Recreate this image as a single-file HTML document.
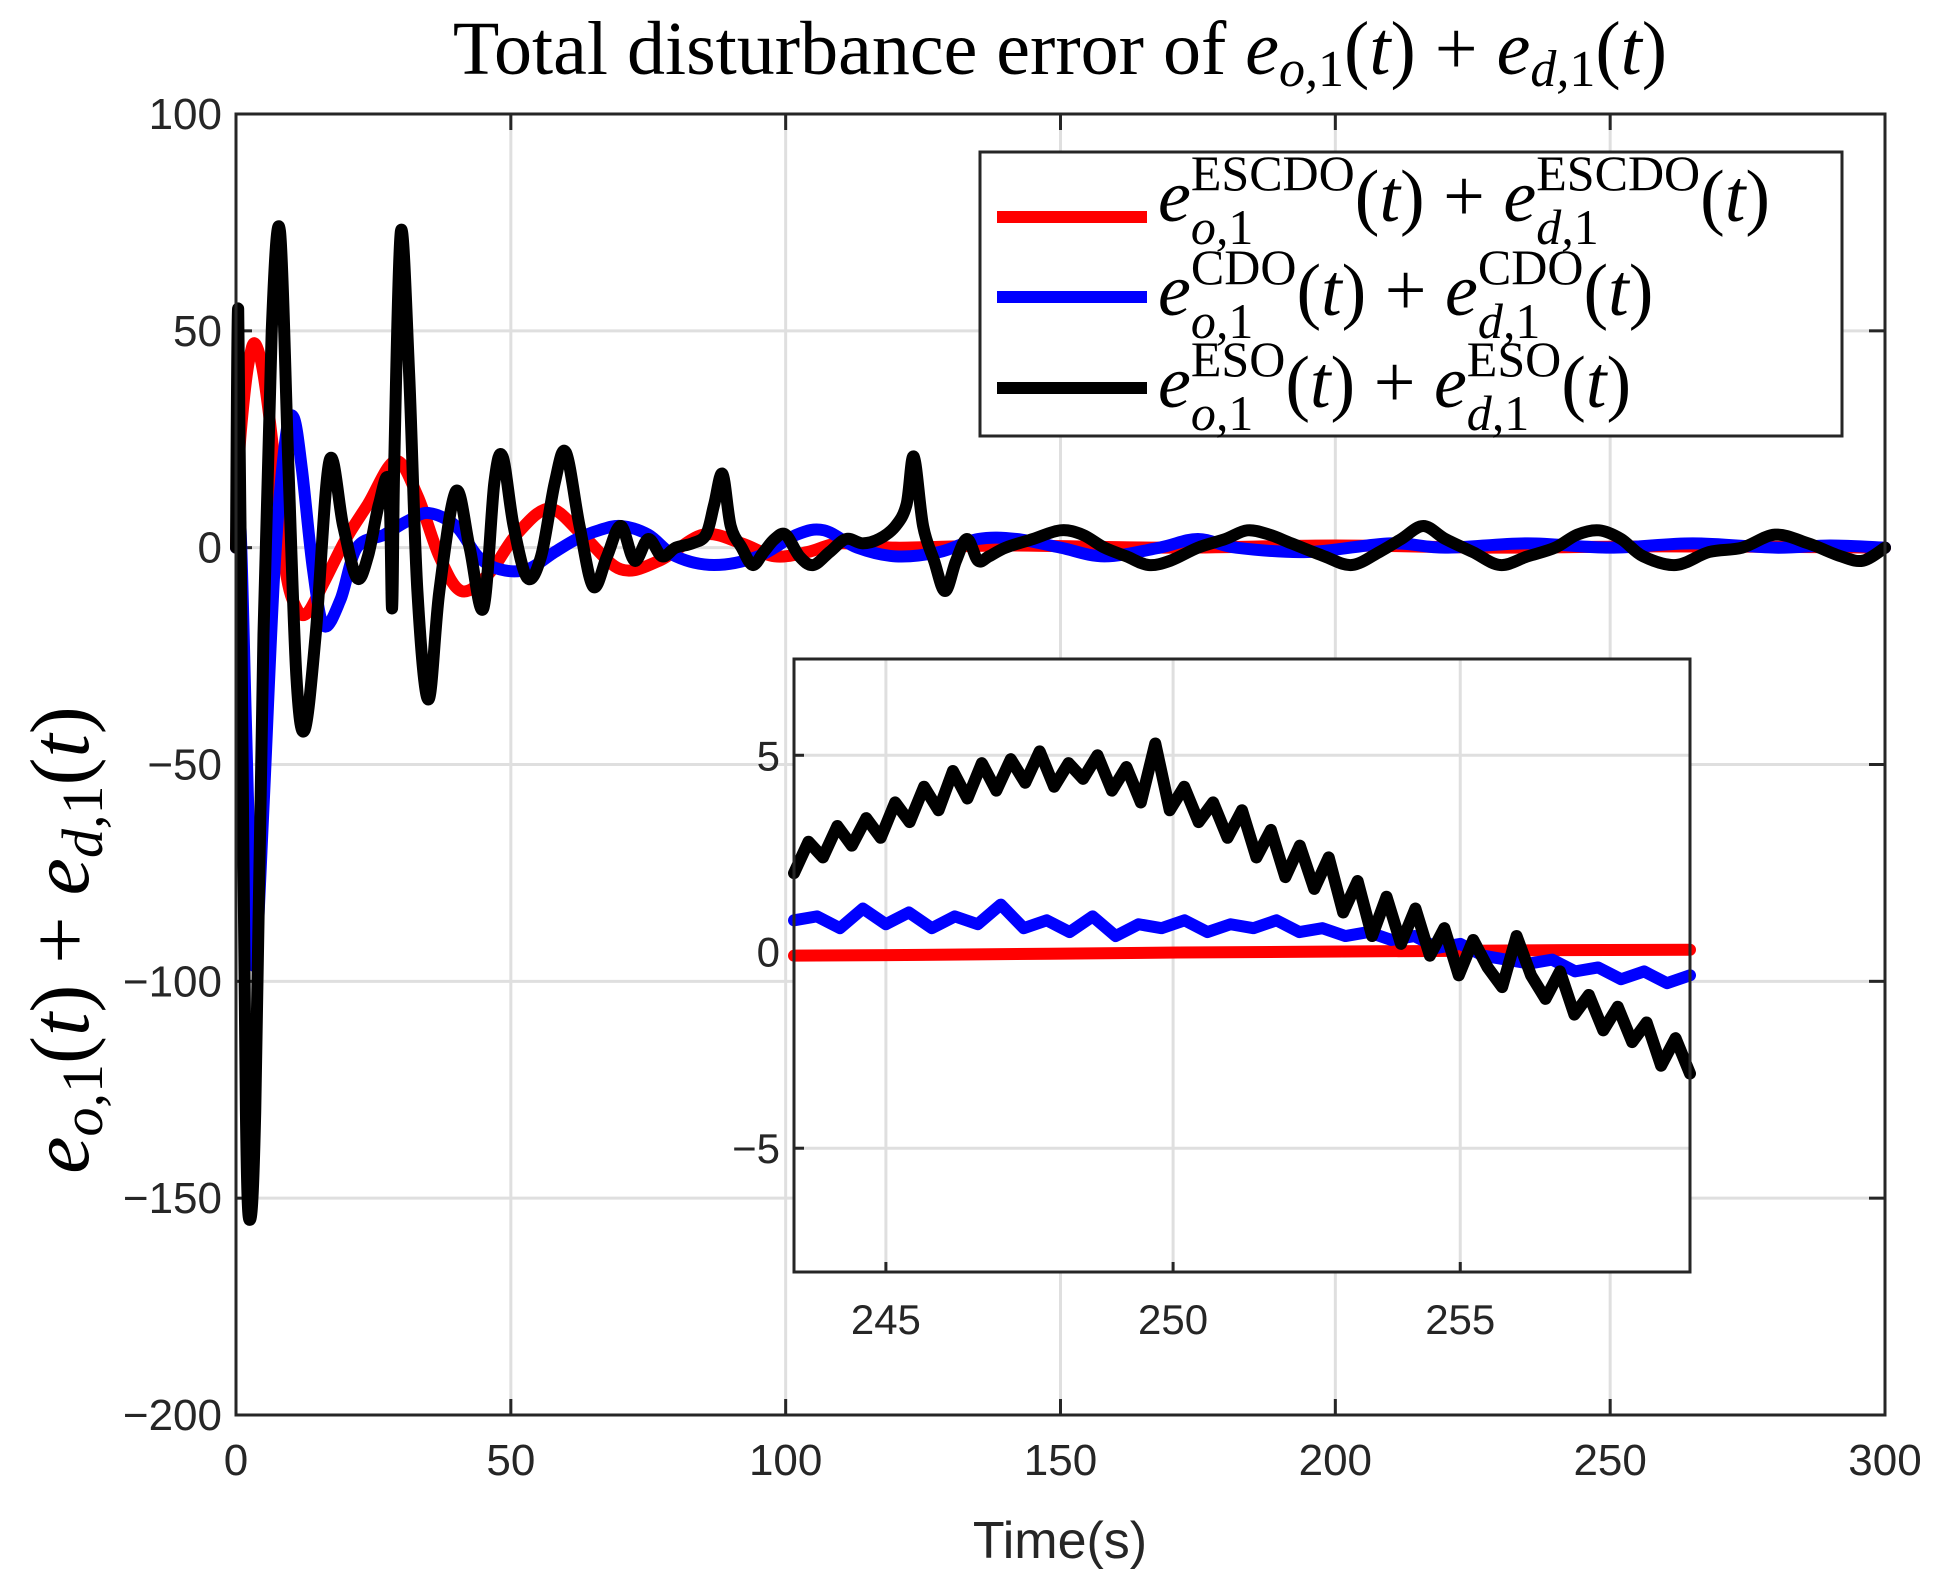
<!DOCTYPE html>
<html><head><meta charset="utf-8">
<style>
html,body{margin:0;padding:0;background:#fff;}
body{width:1938px;height:1584px;overflow:hidden;position:relative;font-family:"Liberation Sans",sans-serif;}
.lg{position:absolute;font-family:"Liberation Serif",serif;font-size:74px;color:#000;white-space:nowrap;line-height:1;}
.lg i{font-style:italic}
.lg .ss{display:inline-block;vertical-align:middle;position:relative;line-height:1;font-size:50px;text-align:left}
</style></head>
<body>
<svg id="chart" width="1938" height="1584" style="position:absolute;left:0;top:0">
  <g id="main"></g>
  <g id="inset"></g>
</svg>
<div class="lg" style="left:1158px;top:152px;">
  <i>e</i><span class="ss" style="top:-4px"><span style="display:block">ESCDO</span><span style="display:block;font-style:italic;margin-top:4px">o,<span style="font-style:normal">1</span></span></span>(<i>t</i>) + <i>e</i><span class="ss" style="top:-4px"><span style="display:block">ESCDO</span><span style="display:block;font-style:italic;margin-top:4px">d,<span style="font-style:normal">1</span></span></span>(<i>t</i>)
</div>
<div class="lg" style="left:1158px;top:246px;">
  <i>e</i><span class="ss" style="top:-4px"><span style="display:block">CDO</span><span style="display:block;font-style:italic;margin-top:4px">o,<span style="font-style:normal">1</span></span></span>(<i>t</i>) + <i>e</i><span class="ss" style="top:-4px"><span style="display:block">CDO</span><span style="display:block;font-style:italic;margin-top:4px">d,<span style="font-style:normal">1</span></span></span>(<i>t</i>)
</div>
<div class="lg" style="left:1158px;top:338px;">
  <i>e</i><span class="ss" style="top:-4px"><span style="display:block">ESO</span><span style="display:block;font-style:italic;margin-top:4px">o,<span style="font-style:normal">1</span></span></span>(<i>t</i>) + <i>e</i><span class="ss" style="top:-4px"><span style="display:block">ESO</span><span style="display:block;font-style:italic;margin-top:4px">d,<span style="font-style:normal">1</span></span></span>(<i>t</i>)
</div>
<script>
// ---- main chart data ----
const escdoT = [0,0.5,1.5,2.5,3.5,5,7,9,11,13,16,20,24,29,33,37,41,46,51,57,63,70,77,85,92,98,104,110,120,140,170,200,230,260,300];
const escdoV = [0,20,35,44,47,40,20,-5,-14,-15,-8,2,10,20,12,-2,-10,-6,3,9,3,-5,-3,3,1,-2,-1,1,0,0.5,0,0.5,0,0.3,0];
const cdoT = [0,0.8,1.8,2.8,3.6,5,7,9,10.5,12,14,16,19,22,27,31,35,40,44,48,53,58,62,66,70,75,80,87,95,102,107,113,120,128,135,142,150,158,168,175,182,195,210,220,235,250,265,280,290,300];
const cdoV = [0,5,-40,-85,-95,-60,-5,25,30,18,-5,-18,-12,0,3,6,8,5,-2,-5,-5,-1,2,4,5,3,-2,-4,-2,3,4,0,-2,-1,2,2,0,-2,0,2,0,-1,1,0,1,0,1,0,0.5,0];
const esoT = [0,0.4,1,1.8,2.5,3.5,5,6.5,8,9.5,11,12.5,14.5,17,19.5,22,24,26,27.8,28.4,28.8,30,31.5,33,35,37,40,42.5,45,47,48.5,50.5,53,55.5,58,60,62.5,65,67.5,70,72.5,75,77.5,80,83,85.5,87,88.5,90,92,94,96,98,100,102.5,105,108,111,114,117,120,122,123.3,125,127,129,131,133,135,137,140,145,150,154,158,162,166,170,175,180,184,188,192,198,203,208,212,216,220,225,230,235,240,244,248,252,256,262,268,274,280,286,292,296,300];
const esoV = [0,55,-20,-130,-155,-130,-20,50,73,20,-30,-42,-20,20,5,-7,-2,10,15,-14,20,73,40,-10,-35,-10,13,0,-14,15,21,5,-7,-2,15,22,5,-9,-2,5,-3,2,-2,0,1,3,10,17,5,0,-4,-1,2,3,-2,-4,-1,2,1,2,5,10,21,5,-3,-10,-3,2,-3,-2,0,2,4,3,0,-2,-4,-3,0,2,4,3,1,-2,-4,-1,2,5,2,-1,-4,-2,0,3,4,2,-2,-4,-1,0,3,1,-2,-3,0,1];
const mainXTicks = [0,50,100,150,200,250,300];
const mainYTicks = [100,50,0,-50,-100,-150,-200];
// ---- inset data ----
const insetRange = [243.4,259.0];
const insetEsoV = [2.0,2.8,2.4,3.2,2.7,3.4,2.9,3.8,3.3,4.2,3.6,4.6,3.9,4.8,4.1,4.9,4.3,5.1,4.2,4.8,4.4,5.0,4.1,4.7,3.8,5.3,3.6,4.2,3.3,3.8,2.9,3.6,2.4,3.1,1.9,2.7,1.6,2.4,1.0,1.8,0.4,1.4,0.2,1.1,-0.1,0.6,-0.6,0.3,-0.4,-0.9,0.4,-0.6,-1.2,-0.5,-1.6,-1.1,-2.0,-1.4,-2.3,-1.8,-2.9,-2.2,-3.1];
const insetCdoV = [0.8,0.9,0.6,1.1,0.7,1.0,0.6,0.9,0.7,1.2,0.6,0.8,0.5,0.9,0.4,0.7,0.6,0.8,0.5,0.7,0.6,0.8,0.5,0.6,0.4,0.5,0.3,0.4,0.1,0.2,-0.1,-0.2,-0.3,-0.2,-0.5,-0.4,-0.7,-0.5,-0.8,-0.6];
const insetEscdoV = [-0.1,-0.08,-0.05,-0.02,0.0,0.02,0.04,0.05];
const insetXTicks = [245,250,255];
const insetYTicks = [5,0,-5];

const NS='http://www.w3.org/2000/svg';
function mk(tag, attrs, parent){const e=document.createElementNS(NS,tag);for(const k in attrs)e.setAttribute(k,attrs[k]);parent.appendChild(e);return e;}
function smooth(pts){let d='M'+pts[0][0]+','+pts[0][1];for(let i=0;i<pts.length-1;i++){const p0=pts[i-1]||pts[i],p1=pts[i],p2=pts[i+1],p3=pts[i+2]||p2;const c1=[p1[0]+(p2[0]-p0[0])/6,p1[1]+(p2[1]-p0[1])/6],c2=[p2[0]-(p3[0]-p1[0])/6,p2[1]-(p3[1]-p1[1])/6];d+=' C'+c1[0]+','+c1[1]+' '+c2[0]+','+c2[1]+' '+p2[0]+','+p2[1];}return d;}

const M={l:236,r:1885,t:114,b:1415,x0:0,x1:300,y0:-200,y1:100};
const mx=v=>M.l+(v-M.x0)/(M.x1-M.x0)*(M.r-M.l);
const my=v=>M.b-(v-M.y0)/(M.y1-M.y0)*(M.b-M.t);
const g=document.getElementById('main');
mk('rect',{x:M.l,y:M.t,width:M.r-M.l,height:M.b-M.t,fill:'#fff'},g);
mainXTicks.forEach(v=>{
  const l=mk('line',{x1:mx(v),x2:mx(v),y1:M.t,y2:M.b,stroke:'#dfdfdf','stroke-width':3},g);
  
  
  const t=mk('text',{x:mx(v),y:M.b+60,'text-anchor':'middle','font-size':44,fill:'#262626'},g);t.textContent=v;
  
  
  mk('line',{x1:mx(v),x2:mx(v),y1:M.b,y2:M.b-16,stroke:'#262626','stroke-width':3},g);
  mk('line',{x1:mx(v),x2:mx(v),y1:M.t,y2:M.t+16,stroke:'#262626','stroke-width':3},g);
});
mainYTicks.forEach(v=>{
  const l=mk('line',{x1:M.l,x2:M.r,y1:my(v),y2:my(v),stroke:'#dfdfdf','stroke-width':3},g);
  
  
  const t=mk('text',{x:M.l-14,y:my(v)+15,'text-anchor':'end','font-size':44,fill:'#262626'},g);t.textContent=(v<0?'\u2212'+(-v):v);
  
  
  mk('line',{x1:M.l,x2:M.l+16,y1:my(v),y2:my(v),stroke:'#262626','stroke-width':3},g);
  mk('line',{x1:M.r,x2:M.r-16,y1:my(v),y2:my(v),stroke:'#262626','stroke-width':3},g);
});
function mainSeries(T,V,color,name){
  const p=mk('path',{d:smooth(T.map((t,i)=>[mx(t),my(V[i])])),fill:'none',stroke:color,'stroke-width':12,'stroke-linejoin':'round','stroke-linecap':'round'},g);
  
  
}
mainSeries(escdoT,escdoV,'#ff0000','escdo-line');
mainSeries(cdoT,cdoV,'#0000ff','cdo-line');
mainSeries(esoT,esoV,'#000000','eso-line');
mk('rect',{x:M.l,y:M.t,width:M.r-M.l,height:M.b-M.t,fill:'none',stroke:'#262626','stroke-width':3},g);

let tt=mk('text',{x:1060,y:74,'text-anchor':'middle','font-size':76,'font-family':'Liberation Serif, serif',fill:'#000'},g);
tt.innerHTML='Total disturbance error of <tspan font-style="italic">e</tspan><tspan font-size="52" dy="12" font-style="italic">o,</tspan><tspan font-size="52">1</tspan><tspan dy="-12">(</tspan><tspan font-style="italic">t</tspan>) + <tspan font-style="italic">e</tspan><tspan font-size="52" dy="12" font-style="italic">d,</tspan><tspan font-size="52">1</tspan><tspan dy="-12">(</tspan><tspan font-style="italic">t</tspan>)';


let xl=mk('text',{x:1060,y:1558,'text-anchor':'middle','font-size':52,fill:'#262626'},g);xl.textContent='Time(s)';


let yl=mk('text',{x:0,y:0,'text-anchor':'middle','font-size':84,'font-family':'Liberation Serif, serif',fill:'#000',transform:'translate(88,940) rotate(-90)'},g);
yl.innerHTML='<tspan font-style="italic">e</tspan><tspan font-size="58" dy="14" font-style="italic">o,</tspan><tspan font-size="58">1</tspan><tspan dy="-14">(</tspan><tspan font-style="italic">t</tspan>) + <tspan font-style="italic">e</tspan><tspan font-size="58" dy="14" font-style="italic">d,</tspan><tspan font-size="58">1</tspan><tspan dy="-14">(</tspan><tspan font-style="italic">t</tspan>)';



const lgb=mk('rect',{x:980,y:152,width:862,height:284,fill:'#fff',stroke:'#262626','stroke-width':3},g);


[['#ff0000',217],['#0000ff',297],['#000000',388]].forEach(c=>{
  const l=mk('line',{x1:997,x2:1147,y1:c[1],y2:c[1],stroke:c[0],'stroke-width':12},g);
  
  
});

const I={l:794,r:1690,t:659,b:1272,x0:insetRange[0],x1:insetRange[1],y0:-8.15,y1:7.45};
const ix=v=>I.l+(v-I.x0)/(I.x1-I.x0)*(I.r-I.l);
const iy=v=>I.b-(v-I.y0)/(I.y1-I.y0)*(I.b-I.t);
const h=document.getElementById('inset');
const ib=mk('rect',{x:I.l,y:I.t,width:I.r-I.l,height:I.b-I.t,fill:'#fff'},h);


insetXTicks.forEach(v=>{
  mk('line',{x1:ix(v),x2:ix(v),y1:I.t,y2:I.b,stroke:'#dfdfdf','stroke-width':3},h);
  const t=mk('text',{x:ix(v),y:I.b+62,'text-anchor':'middle','font-size':42,fill:'#262626'},h);t.textContent=v;
  
  
  mk('line',{x1:ix(v),x2:ix(v),y1:I.b,y2:I.b-10,stroke:'#262626','stroke-width':3},h);
});
insetYTicks.forEach(v=>{
  mk('line',{x1:I.l,x2:I.r,y1:iy(v),y2:iy(v),stroke:'#dfdfdf','stroke-width':3},h);
  const t=mk('text',{x:I.l-14,y:iy(v)+15,'text-anchor':'end','font-size':42,fill:'#262626'},h);t.textContent=(v<0?'\u2212'+(-v):v);
  
  
  mk('line',{x1:I.l,x2:I.l+10,y1:iy(v),y2:iy(v),stroke:'#262626','stroke-width':3},h);
});
function insetSeries(V,color,name){
  const n=V.length;
  const pts=V.map((v,i)=>ix(I.x0+i*(I.x1-I.x0)/(n-1))+','+iy(v)).join(' ');
  const p=mk('polyline',{points:pts,fill:'none',stroke:color,'stroke-width':12,'stroke-linejoin':'round','stroke-linecap':'round'},h);
  
  
}
insetSeries(insetEscdoV,'#ff0000','inset-escdo-line');
insetSeries(insetCdoV,'#0000ff','inset-cdo-line');
insetSeries(insetEsoV,'#000000','inset-eso-line');
mk('rect',{x:I.l,y:I.t,width:I.r-I.l,height:I.b-I.t,fill:'none',stroke:'#262626','stroke-width':3},h);
</script>
</body></html>
